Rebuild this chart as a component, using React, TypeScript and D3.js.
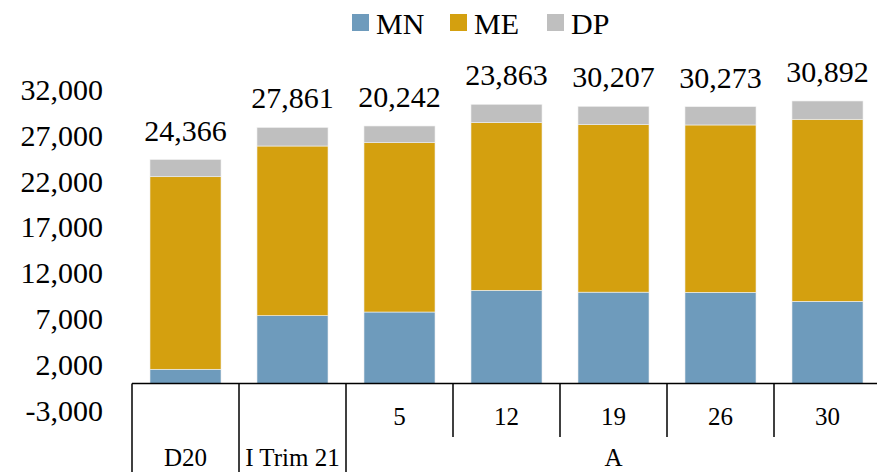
import { useEffect, useRef } from "react";
import * as d3 from "d3";

// categories (bottom level) and their groups
const categories = ["D20", "I Trim 21", "5", "12", "19", "26", "30"];
const dayLabels = ["", "", "5", "12", "19", "26", "30"];
const groups = [
  { label: "D20", from: 0, to: 0 },
  { label: "I Trim 21", from: 1, to: 1 },
  { label: "A", from: 2, to: 6 },
];

// series values
const MN = [1550, 7380, 7780, 10140, 9940, 9920, 8940];
const ME = [20950, 18460, 18420, 18240, 18220, 18210, 19810];
const DP = [1870, 2020, 1820, 2000, 2000, 1990, 1990];

// labels printed above the bars
const totalLabels = ["24,366", "27,861", "20,242", "23,863", "30,207", "30,273", "30,892"];

const yTicks = [-3000, 2000, 7000, 12000, 17000, 22000, 27000, 32000];

const seriesNames = ["MN", "ME", "DP"];
const colors: Record<string, string> = { MN: "#6E9BBC", ME: "#D4A00F", DP: "#BFBFBF" };

const FONT = "'Liberation Serif', 'Times New Roman', serif";

export default function App() {
  const svgRef = useRef<SVGSVGElement | null>(null);

  useEffect(() => {
    if (!svgRef.current) return;
    const width = 877;
    const height = 472;

    const svg = d3.select(svgRef.current);
    svg.selectAll("*").remove();
    svg.attr("width", width).attr("height", height);

    const x = d3
      .scaleBand<string>()
      .domain(categories)
      .range([132, 881])
      .paddingInner(0.336)
      .paddingOuter(0.168);

    const y = d3.scaleLinear().domain([-3000, 32000]).range([411.1, 89.4]);

    const rows = categories.map((c, i) => ({ cat: c, MN: MN[i], ME: ME[i], DP: DP[i] }));
    const stacked = d3.stack<any>().keys(seriesNames)(rows);

    // bars
    svg
      .append("g")
      .selectAll("g")
      .data(stacked)
      .join("g")
      .attr("fill", (s) => colors[s.key])
      .selectAll("rect")
      .data((s) => s)
      .join("rect")
      .attr("x", (d: any) => x(d.data.cat)!)
      .attr("width", x.bandwidth())
      .attr("y", (d) => y(d[1]))
      .attr("height", (d) => y(d[0]) - y(d[1]))
      .attr("stroke", "#f2f2f2")
      .attr("stroke-width", 0.6);

    // labels above bars
    svg
      .append("g")
      .selectAll("text")
      .data(rows)
      .join("text")
      .attr("x", (d) => x(d.cat)! + x.bandwidth() / 2)
      .attr("y", (d) => y(d.MN + d.ME + d.DP) - 19)
      .attr("text-anchor", "middle")
      .attr("font-family", FONT)
      .attr("font-size", 30)
      .attr("fill", "#000")
      .text((_, i) => totalLabels[i]);

    // y axis labels (no line, no ticks) - plain hyphen for negatives
    const fmt = d3.format(",");
    svg
      .append("g")
      .selectAll("text")
      .data(yTicks)
      .join("text")
      .attr("x", 103)
      .attr("y", (d) => y(d))
      .attr("dy", "0.34em")
      .attr("text-anchor", "end")
      .attr("font-family", FONT)
      .attr("font-size", 30)
      .text((d) => fmt(d).replace("\u2212", "-"));

    // x axis (multi-level)
    const axis = svg.append("g").attr("stroke", "#000").attr("stroke-width", 1.5);
    const y0 = y(0);
    const step = x.step();
    const left = (i: number) => x(categories[i])! - (step - x.bandwidth()) / 2;

    axis.append("line").attr("x1", left(0)).attr("x2", width).attr("y1", y0).attr("y2", y0);

    // day separators (short)
    categories.forEach((_, i) => {
      if (i < 3) return;
      axis
        .append("line")
        .attr("x1", left(i))
        .attr("x2", left(i))
        .attr("y1", y0)
        .attr("y2", 437);
    });
    // group separators (full)
    groups.forEach((g) => {
      axis
        .append("line")
        .attr("x1", left(g.from))
        .attr("x2", left(g.from))
        .attr("y1", y0)
        .attr("y2", height);
    });

    svg
      .append("g")
      .selectAll("text")
      .data(dayLabels)
      .join("text")
      .attr("x", (_, i) => x(categories[i])! + x.bandwidth() / 2)
      .attr("y", 425)
      .attr("text-anchor", "middle")
      .attr("font-family", FONT)
      .attr("font-size", 25)
      .text((d) => d);

    svg
      .append("g")
      .selectAll("text")
      .data(groups)
      .join("text")
      .attr("x", (g) => (left(g.from) + Math.min(left(g.to) + step, 881)) / 2)
      .attr("y", 466)
      .attr("text-anchor", "middle")
      .attr("font-family", FONT)
      .attr("font-size", 25)
      .text((g) => g.label);

    // legend
    const legendX = [352, 450, 547];
    const leg = svg
      .append("g")
      .selectAll("g")
      .data(seriesNames)
      .join("g")
      .attr("transform", (_, i) => `translate(${legendX[i]},0)`);
    leg
      .append("rect")
      .attr("x", 0)
      .attr("y", 14)
      .attr("width", 17)
      .attr("height", 17)
      .attr("fill", (d) => colors[d]);
    leg
      .append("text")
      .attr("x", 24)
      .attr("y", 34)
      .attr("font-family", FONT)
      .attr("font-size", 30)
      .text((d) => d);
  }, []);

  return (
    <svg
      ref={svgRef}
      style={{ position: "absolute", left: 0, top: 0, display: "block", background: "#fff" }}
    />
  );
}
